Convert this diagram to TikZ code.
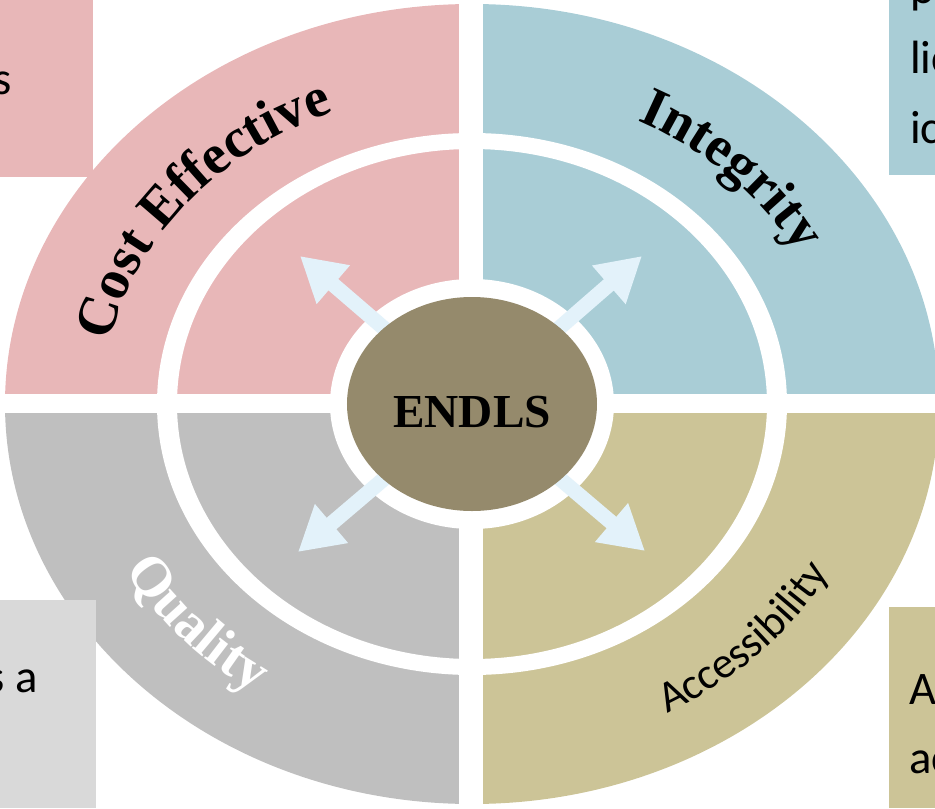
\documentclass[tikz,border=0pt]{standalone}
\usepackage{fontspec}
\usetikzlibrary{arrows.meta,decorations.text,shapes.geometric}
\newfontfamily\calibri{Carlito}
\newfontfamily\tempi{Liberation Serif}
\definecolor{rosa}{HTML}{E8B7B8}
\definecolor{azzurro}{HTML}{A9CDD6}
\definecolor{grigio}{HTML}{BFBFBF}
\definecolor{grigiochiaro}{HTML}{D9D9D9}
\definecolor{sabbia}{HTML}{CCC497}
\definecolor{bruno}{HTML}{958A6C}
\definecolor{celeste}{HTML}{E3F2FA}
\newcommand\arcofont{\tempi\bfseries\fontsize{42}{48}\selectfont}
\newcommand\accfont{\calibri\fontsize{33}{40}\selectfont}
\begin{document}
\begin{tikzpicture}[x=0.75pt,y=0.75pt,
    raggio/.style={line width=11.25pt, draw=celeste, -{Triangle[width=36pt,length=33pt]}},
    nucleo/.style={ellipse, fill=bruno, minimum width=187.5pt, minimum height=160.5pt,
                   inner sep=0pt, font=\tempi\bfseries\fontsize{35.5}{40}\selectfont},
    testo/.style={font=\calibri\fontsize{35}{42}\selectfont, inner sep=0pt},
    etichetta/.style={decorate, decoration={text along path, text align=center, text={#1}}}]
        \useasboundingbox (-472,-404) rectangle (463,404);
        \clip (-472,-404) rectangle (463,404);

        % Disegna i quadranti
        \fill[rosa] (0,0) -- (-467,0) arc[start angle=180, end angle=90, x radius=467, y radius=400] -- cycle;
        \fill[azzurro] (0,0) -- (0,400) arc[start angle=90, end angle=0, x radius=467, y radius=400] -- cycle;
        \fill[sabbia] (0,0) -- (467,0) arc[start angle=0, end angle=-90, x radius=467, y radius=400] -- cycle;
        \fill[grigio] (0,0) -- (0,-400) arc[start angle=270, end angle=180, x radius=467, y radius=400] -- cycle;

        % Disegna i riquadri laterali
        \fill[rosa] (-472,404) rectangle (-379,227);
        \fill[azzurro] (417,404) rectangle (463,229);
        \fill[grigiochiaro] (-472,-196) rectangle (-376,-404);
        \fill[sabbia] (417,-203) rectangle (463,-404);

        % Separazioni bianche
        \fill[white, even odd rule] (0,0) ellipse [x radius=315, y radius=271]
                                    (0,0) ellipse [x radius=295, y radius=255];
        \fill[white] (-472,-9) rectangle (463,10);
        \fill[white] (-13,-404) rectangle (11,404);
        \fill[white] (0,0) ellipse [x radius=142, y radius=125];

        % Frecce
        \coordinate (hub) at (0,0);
        \coordinate (verCE) at (-172,148);
        \coordinate (verIN) at (170,148);
        \coordinate (verQU) at (-174,-148);
        \coordinate (verAC) at (173,-147);
        \draw[raggio] (hub) -- (verCE);
        \draw[raggio] (hub) -- (verIN);
        \draw[raggio] (hub) -- (verQU);
        \draw[raggio] (hub) -- (verAC);

        \node[nucleo] (endls) at (hub) {\raisebox{-17.25pt}[0pt][0pt]{ENDLS}};

        % Scritte sugli archi
        \path[etichetta={|\arcofont|Cost Effective}] (178:369 and 315) arc[start angle=178, end angle=104, x radius=369, y radius=315];
        \path[etichetta={|\arcofont|Integrity}] (77:370 and 317) arc[start angle=77, end angle=13, x radius=370, y radius=317];
        \path[etichetta={|\arcofont\color{white}|Quality}] (191:396 and 345) arc[start angle=191, end angle=253, x radius=396, y radius=345];
        \path[etichetta={|\accfont|Accessibility}] (-79:407 and 353) arc[start angle=-79, end angle=-9, x radius=407, y radius=353];

        % Testi tagliati dei riquadri
        \node[testo, anchor=base east] (tlS) at (-460,310) {s};
        \node[testo, anchor=base west] (trP) at (438,401) {p};
        \node[testo, anchor=base west] (trLic) at (438,331) {lic};
        \node[testo, anchor=base west] (trIc) at (438,261) {ic};
        \node[testo, anchor=base east] (blSa) at (-434,-288) {s a};
        \node[testo, anchor=base west] (brA) at (437,-300) {A};
        \node[testo, anchor=base west] (brAc) at (437,-369) {ac};
    \end{tikzpicture}
\end{document}
